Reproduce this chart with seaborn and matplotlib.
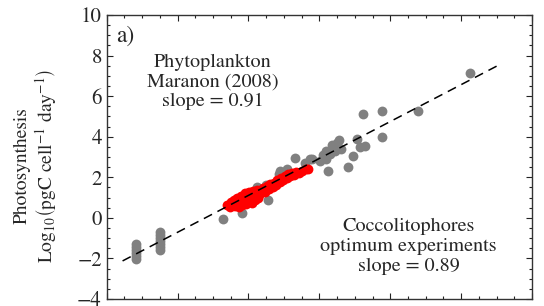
import matplotlib
matplotlib.use("Agg")
import matplotlib.pyplot as plt
from matplotlib.ticker import MultipleLocator
import seaborn as sns
import numpy as np

# Phytoplankton (Maranon 2008), log10 cell volume vs log10 photosynthesis
phyto_x = [-1.16, -1.16, -1.16, -1.16, -1.16, -1.16,
           -0.50, -0.50, -0.50, -0.50, -0.50, -0.50, -0.50,
           1.28, 1.81, 2.55, 2.23, 2.00, 2.50, 2.85, 2.89, 3.32, 3.10,
           3.74, 3.60, 4.03, 3.79, 4.25, 4.31, 4.20, 4.40, 4.50, 4.55,
           4.35, 4.45, 4.60, 4.20, 4.10, 4.82, 4.96, 5.06, 5.30, 5.15,
           5.23, 5.77, 5.77, 6.77, 8.25]
phyto_y = [-1.30, -1.45, -1.60, -1.75, -1.90, -2.05,
           -0.70, -0.85, -1.00, -1.15, -1.30, -1.45, -1.60,
           -0.05, 0.26, 0.90, 1.50, 1.20, 1.60, 2.16, 2.33, 2.95, 2.40,
           2.90, 2.70, 2.82, 2.92, 2.33, 3.15, 3.30, 3.50, 3.70, 3.85,
           3.60, 3.30, 3.40, 2.90, 3.10, 2.52, 3.07, 3.90, 3.56, 3.50,
           5.10, 5.26, 4.00, 5.26, 7.14]

# Coccolithophores, optimum experiments
cocco_x = [1.40, 1.48, 1.50, 1.55, 1.58, 1.62, 1.65, 1.68, 1.70, 1.72,
           1.75, 1.78, 1.80, 1.82, 1.85, 1.88, 1.90, 1.92, 1.95, 1.98,
           2.00, 2.02, 2.05, 2.08, 2.10, 2.12, 2.15, 2.18, 2.20, 2.25,
           2.28, 2.30, 2.38, 2.42, 2.48, 2.52, 2.58, 2.62, 2.68, 2.72,
           2.78, 2.82, 2.88, 2.92, 2.98, 3.02, 3.08, 3.12, 3.18, 3.22,
           3.28, 3.35, 3.42, 3.50, 3.62, 3.68]
cocco_y = [0.62, 0.55, 0.78, 0.68, 0.90, 0.60, 0.85, 1.00, 0.72, 0.55,
           0.95, 1.10, 0.80, 0.62, 1.05, 0.90, 1.20, 0.70, 1.00, 1.15,
           0.85, 1.25, 0.95, 1.10, 0.75, 1.30, 1.05, 0.90, 1.20, 1.35,
           1.00, 1.15, 1.30, 1.45, 1.25, 1.55, 1.40, 1.65, 1.50, 1.70,
           1.62, 1.85, 1.75, 1.95, 1.88, 2.05, 1.95, 2.15, 2.08, 2.20,
           2.12, 2.25, 2.20, 2.30, 2.40, 2.42]

# fitted line
fit_slope = 0.91
fit_intercept = -0.714
fit_x = np.array([-1.55, 9.05])
fit_y = fit_slope * fit_x + fit_intercept

sns.set_style("ticks")
plt.rcParams['font.family'] = ['STIXGeneral', 'DejaVu Serif']
plt.rcParams['mathtext.fontset'] = 'stix'

fig, ax = plt.subplots(figsize=(5.44, 3.06), dpi=100)
fig.subplots_adjust(left=0.196, right=0.978, top=0.951, bottom=0.023)

sns.scatterplot(x=phyto_x, y=phyto_y, color='#808080', s=50, linewidth=0, ax=ax)
sns.scatterplot(x=cocco_x, y=cocco_y, color='#ff0000', s=50, linewidth=0, ax=ax)
ax.plot(fit_x, fit_y, color='black', linestyle=(0, (6, 4)), linewidth=1.1)

ax.set_xlim(-2, 10)
ax.set_ylim(-4, 10)
ax.xaxis.set_major_locator(MultipleLocator(2))
ax.xaxis.set_minor_locator(MultipleLocator(0.5))
ax.yaxis.set_major_locator(MultipleLocator(2))
ax.yaxis.set_minor_locator(MultipleLocator(0.5))
ax.tick_params(which='both', direction='in', top=True, right=True,
               labelbottom=False, labelsize=15, width=0.8, color='#222222')
ax.tick_params(which='major', length=4)
ax.tick_params(which='minor', length=2.5)
for sp in ax.spines.values():
    sp.set_linewidth(1.0)
    sp.set_color('#333333')

ax.set_ylabel('Photosynthesis\n' + r'Log$_{10}\left(\mathrm{pgC\ cell^{-1}\ day^{-1}}\right)$',
              fontsize=14, linespacing=1.1)
ax.yaxis.set_label_coords(-0.112, 0.47)

ax.text(-1.72, 8.95, 'a)', fontsize=17, ha='left', va='center')
ax.text(0.99, 6.7, 'Phytoplankton\nMaranon (2008)\nslope = 0.91',
        fontsize=14.5, ha='center', va='center', linespacing=1.2)
ax.text(6.52, -1.42, 'Coccolitophores\noptimum experiments\nslope = 0.89',
        fontsize=14.5, ha='center', va='center', linespacing=1.2)

fig.savefig('out.png', dpi=100)
